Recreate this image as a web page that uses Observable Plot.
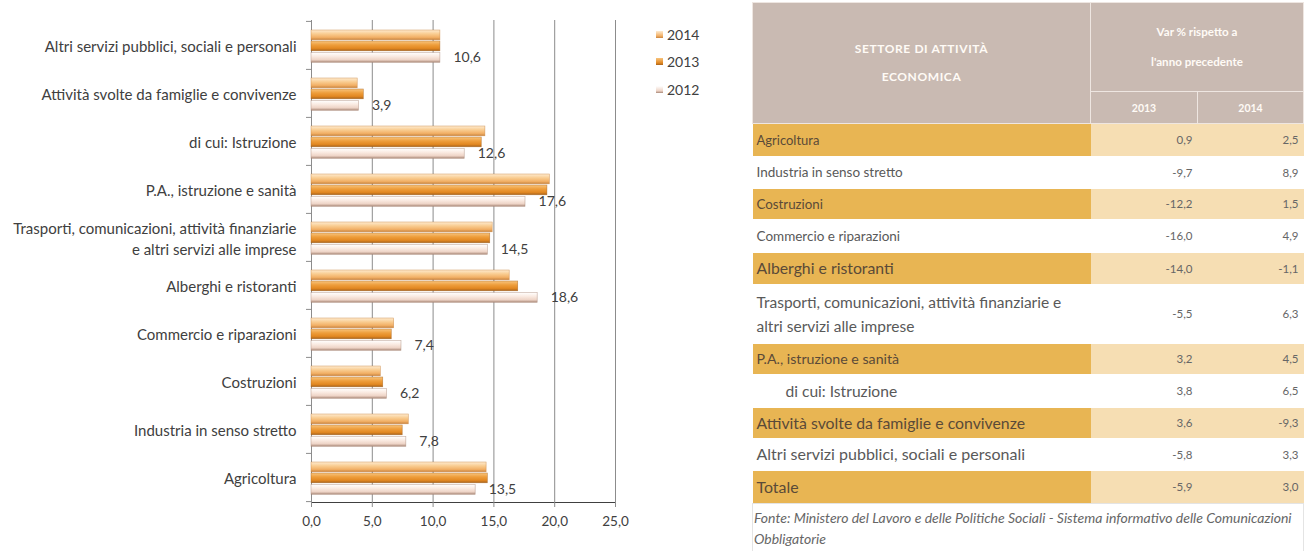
<!DOCTYPE html>
<html>
<head>
<meta charset="utf-8">
<script src="https://cdn.jsdelivr.net/npm/d3@7"></script>
<script src="https://cdn.jsdelivr.net/npm/@observablehq/plot@0.6"></script>
<style>
  body { margin: 0; background: #fff; font-family: Lato, "Open Sans", sans-serif; }
  #wrap { position: relative; width: 1306px; height: 551px; overflow: hidden; background: #fff; }
  #chart { position: absolute; left: 0; top: 0; }
  #legend { position: absolute; left: 656px; top: 24px; font: 14px Lato, sans-serif; color: #404040; }
  #legend .item { display: flex; align-items: center; height: 20px; margin-bottom: 7.5px; }
  #legend .sw { width: 7px; height: 7px; margin-right: 4px; }
  #tbl { position: absolute; left: 752px; top: 2px; }
  table { border-collapse: collapse; table-layout: fixed; width: 551px; font-family: Lato, sans-serif; }
  th { background: #C9BAB2; color: #FFFBF6; font-weight: bold; font-size: 10.5px; border: 1px solid #EEE6E1; padding: 0; text-align: center; vertical-align: middle; }
  td { padding: 0; vertical-align: middle; }
  td.lab { padding-left: 4px; color: #595959; }
  td.val { text-align: right; padding-right: 5px; color: #666; font-size: 11.5px; }
  tr.hi td.lab { background: #E8B553; color: #5a4a38; }
  tr.hi td.val { background: #F6DEB3; }
  td.fonte { font-style: italic; font-size: 14px; color: #666; padding: 3px 2px 0 1px; line-height: 21px; vertical-align: top; border: 1px solid #e4e4e4; }
</style>
</head>
<body>
<div id="wrap">
  <div id="chart"></div>
  <div id="legend"></div>
  <div id="tbl"></div>
</div>
<script>
// ---- chart data (top to bottom) ----
const categories = [
  "Altri servizi pubblici, sociali e personali",
  "Attività svolte da famiglie e convivenze",
  "di cui: Istruzione",
  "P.A., istruzione e sanità",
  "Trasporti, comunicazioni, attività finanziarie\ne altri servizi alle imprese",
  "Alberghi e ristoranti",
  "Commercio e riparazioni",
  "Costruzioni",
  "Industria in senso stretto",
  "Agricoltura"
];
const series = ["2014", "2013", "2012"];
const v2014 = [10.6, 3.8, 14.3, 19.6, 14.9, 16.3, 6.8, 5.7, 8.0, 14.4];
const v2013 = [10.6, 4.3, 14.0, 19.4, 14.7, 17.0, 6.6, 5.9, 7.5, 14.5];
const v2012 = [10.6, 3.9, 12.6, 17.6, 14.5, 18.6, 7.4, 6.2, 7.8, 13.5];
const xTicks = [0, 5, 10, 15, 20, 25];

// ---- table data ----
const sectors = [
  "Agricoltura",
  "Industria in senso stretto",
  "Costruzioni",
  "Commercio e riparazioni",
  "Alberghi e ristoranti",
  "Trasporti, comunicazioni, attività finanziarie e\naltri servizi alle imprese",
  "P.A., istruzione e sanità",
  "di cui: Istruzione",
  "Attività svolte da famiglie e convivenze",
  "Altri servizi pubblici, sociali e personali",
  "Totale"
];
const var2013 = [0.9, -9.7, -12.2, -16.0, -14.0, -5.5, 3.2, 3.8, 3.6, -5.8, -5.9];
const var2014 = [2.5, 8.9, 1.5, 4.9, -1.1, 6.3, 4.5, 6.5, -9.3, 3.3, 3.0];
const headerLeft = ["SETTORE DI ATTIVITÀ", "ECONOMICA"];
const headerRight = ["Var % rispetto a", "l'anno precedente"];
const tableYears = ["2013", "2014"];
const source = "Fonte: Ministero del Lavoro e delle Politiche Sociali - Sistema informativo delle Comunicazioni Obbligatorie";

// ---- build chart ----
const fmt = d => d.toFixed(1).replace(".", ",");
const values = {"2014": v2014, "2013": v2013, "2012": v2012};
const rows = categories.flatMap((c, i) => series.map(s => ({cat: c, year: s, value: values[s][i]})));

const W = 720, H = 551, mT = 20, mB = 49, mL = 311, mR = 105;
const step = (H - mT - mB) / categories.length;
const barH = 10;
const offs = {"2014": 9, "2013": 20, "2012": 31.5};
const edge = {"2014": "#C9843E", "2013": "#A9641C", "2012": "#A98878"};

const plot = Plot.plot({
  width: W, height: H,
  marginTop: mT, marginBottom: mB, marginLeft: mL, marginRight: mR,
  style: {fontFamily: "Lato, sans-serif", fontSize: "13.5px", color: "#404040", background: "transparent", overflow: "visible"},
  x: {domain: [0, 25], ticks: xTicks, tickFormat: fmt, tickSize: 5, tickPadding: 9, label: null, line: true},
  y: {type: "band", domain: categories, padding: 0, axis: null},
  marks: [
    Plot.ruleX(xTicks.slice(1), {stroke: "#8c8c8c", strokeWidth: 1}),
    Plot.ruleX([0], {stroke: "#8c8c8c"}),
    ...series.map(s => Plot.barX(rows.filter(r => r.year === s), {
      x: "value", y: "cat",
      fill: `url(#g${s})`, stroke: edge[s], strokeWidth: 0.6, strokeOpacity: 0.7,
      insetTop: offs[s], insetBottom: step - offs[s] - barH
    })),
    Plot.text(rows.filter(r => r.year === "2012"), {
      x: "value", y: "cat", text: d => fmt(d.value),
      dx: 13, dy: offs["2012"] + barH / 2 - step / 2, textAnchor: "start", fill: "#404040", fontSize: 14
    }),
    Plot.text(categories, {x: 0, y: d => d, text: d => d, textAnchor: "end", dx: -15, lineHeight: 1.4, fill: "#404040", fontSize: 15}),
    Plot.ruleY(categories, {y: d => d, x1: -0.41, x2: 0, dy: -step / 2, stroke: "#8c8c8c"}),
    Plot.ruleY(categories.slice(-1), {y: d => d, x1: -0.41, x2: 0, dy: step / 2, stroke: "#8c8c8c"})
  ]
});

const svg = plot.tagName.toLowerCase() === "svg" ? plot : plot.querySelector("svg");
const grads = {
  "2014": [["0%", "#FEEBD0"], ["40%", "#F9CC90"], ["75%", "#F2B066"], ["100%", "#C9843E"]],
  "2013": [["0%", "#F8C47E"], ["40%", "#EE9E3C"], ["75%", "#E28822"], ["100%", "#A9641C"]],
  "2012": [["0%", "#FFFFFF"], ["40%", "#FAEAE1"], ["75%", "#EED4C6"], ["100%", "#A98878"]]
};
const defs = d3.select(svg).insert("defs", ":first-child");
for (const s of series) {
  const g = defs.append("linearGradient").attr("id", `g${s}`).attr("x1", 0).attr("y1", 0).attr("x2", 0).attr("y2", 1);
  for (const [o, c] of grads[s]) g.append("stop").attr("offset", o).attr("stop-color", c);
}
d3.select(svg).selectAll("[aria-label='x-axis tick'] path, [aria-label='x-axis line'] path, [aria-label='x-axis line'] line").attr("stroke", "#8c8c8c");
document.getElementById("chart").append(plot);

// ---- legend ----
const swatchCss = {
  "2014": "linear-gradient(#FEEBD0, #F2B066 70%, #C9843E)",
  "2013": "linear-gradient(#F8C47E, #E28822 70%, #A9641C)",
  "2012": "linear-gradient(#FFFFFF, #EED4C6 70%, #A98878)"
};
const legend = document.getElementById("legend");
for (const s of series) {
  const item = document.createElement("div");
  item.className = "item";
  const sw = document.createElement("span");
  sw.className = "sw";
  sw.style.background = swatchCss[s];
  const t = document.createElement("span");
  t.textContent = s;
  item.append(sw, t);
  legend.append(item);
}

// ---- table ----
const rowHeights = [32, 33, 30, 34, 31, 60, 30, 34, 30, 33, 33];
const labelSizes = [13, 13.5, 13.3, 13.5, 15.8, 15.5, 14.2, 15.6, 15.8, 16, 15.9];
const tbl = document.createElement("table");
const cg = document.createElement("colgroup");
for (const w of [338, 107, 106]) { const c = document.createElement("col"); c.style.width = w + "px"; cg.append(c); }
tbl.append(cg);

const h1 = document.createElement("tr"); h1.style.height = "89px";
const thL = document.createElement("th"); thL.rowSpan = 2; thL.style.lineHeight = "28px"; thL.style.fontSize = "12px"; thL.style.letterSpacing = "0.6px";
thL.innerHTML = headerLeft.join("<br>");
const thR = document.createElement("th"); thR.colSpan = 2; thR.style.lineHeight = "30px"; thR.style.fontSize = "11.6px";
thR.innerHTML = headerRight.join("<br>");
h1.append(thL, thR);
const h2 = document.createElement("tr"); h2.style.height = "32px";
for (const y of tableYears) { const th = document.createElement("th"); th.textContent = y; h2.append(th); }
tbl.append(h1, h2);

sectors.forEach((name, i) => {
  const tr = document.createElement("tr");
  tr.style.height = rowHeights[i] + "px";
  if (i % 2 === 0) tr.className = "hi";
  const td = document.createElement("td");
  td.className = "lab";
  td.style.fontSize = labelSizes[i] + "px";
  td.style.lineHeight = "24px";
  if (name.startsWith("di cui")) td.style.paddingLeft = "33px";
  td.innerHTML = name.split("\n").join("<br>");
  const a = document.createElement("td"); a.className = "val"; a.textContent = fmt(var2013[i]);
  const b = document.createElement("td"); b.className = "val"; b.textContent = fmt(var2014[i]);
  tr.append(td, a, b);
  tbl.append(tr);
});
const fr = document.createElement("tr"); fr.style.height = "48px";
const ft = document.createElement("td"); ft.colSpan = 3; ft.className = "fonte"; ft.textContent = source;
fr.append(ft); tbl.append(fr);
document.getElementById("tbl").append(tbl);
</script>
</body>
</html>
